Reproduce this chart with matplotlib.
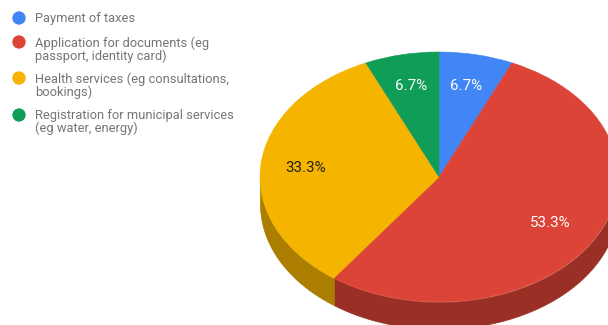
import numpy as np
import matplotlib
matplotlib.use('Agg')
import matplotlib.pyplot as plt

plt.rcParams['font.family'] = ['Roboto', 'DejaVu Sans']

# shares of the survey answers, in percent
labels = ['Payment of taxes',
          'Application for documents (eg\npassport, identity card)',
          'Health services (eg consultations,\nbookings)',
          'Registration for municipal services\n(eg water, energy)']
shares = [6.7, 53.3, 33.3, 6.7]
colors = ['#4285F4', '#DB4437', '#F4B400', '#0F9D58']
wall_colors = ['#2E5DAA', '#9A2F26', '#AB7E00', '#0A6E3E']
text_colors = ['#FFFFFF', '#FFFFFF', '#222222', '#FFFFFF']

W, H = 608, 325
CX, CY = 439, 177   # pie centre, px
RX, RY = 179, 125   # pie radii, px
DEPTH = 27 / RY     # height of the side wall, in y units
LEGEND_Y = [18, 42, 78, 115]   # first text line of each legend row, px
PCT_NUDGE = [(-0.5, 1.5), (-2, 0), (-3.5, 0), (-0.5, 1.5)]   # label tweaks, px

fig = plt.figure(figsize=(W / 100, H / 100), dpi=100)
ax = fig.add_axes([0, 0, 1, 1])

# side wall first: only the front half of the rim shows
edges = 360 * np.cumsum([0] + shares) / np.sum(shares)
for i in range(len(shares)):
    a0 = max(edges[i], 90)
    a1 = min(edges[i + 1], 270)
    if a0 >= a1:
        continue
    t = np.radians(np.linspace(a0, a1, 80))
    ax.fill_between(np.sin(t), np.cos(t), np.cos(t) - DEPTH,
                    color=wall_colors[i], lw=0.5)

wedges, _, pcts = ax.pie(shares, colors=colors, startangle=90, counterclock=False,
                         radius=1, center=(0, 0), autopct='%.1f%%', pctdistance=0.73,
                         textprops={'fontsize': 10.9})
for w, c in zip(wedges, colors):
    w.set_edgecolor(c)
    w.set_linewidth(0.4)
for t, c, (dx, dy) in zip(pcts, text_colors, PCT_NUDGE):
    t.set_color(c)
    x, y = t.get_position()
    t.set_position((x + dx / RX, y + dy / RY))

# squash the circle into the tilted ellipse
ax.set_aspect('auto')
ax.set_xlim(-CX / RX, (W - CX) / RX)
ax.set_ylim((CY - H) / RY, CY / RY)
ax.axis('off')

# legend on its own pixel-scaled layer, dot lines up with the first text line
lax = fig.add_axes([0, 0, 1, 1])
lax.set_xlim(0, W)
lax.set_ylim(H, 0)
lax.axis('off')
lax.scatter([19] * len(colors), LEGEND_Y, s=92, c=colors, linewidths=0)
for y, label in zip(LEGEND_Y, labels):
    lax.text(35, y - 5.8, label, fontsize=9.3, color='#757575', va='top', linespacing=0.98)

fig.savefig('out.png', dpi=100)
